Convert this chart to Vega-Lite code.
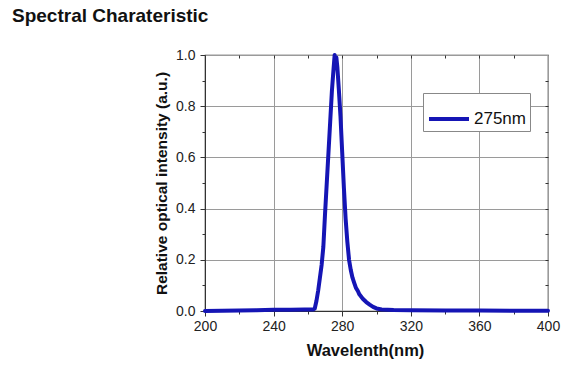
{
  "$schema": "https://vega.github.io/schema/vega-lite/v6.json",
  "width": 343,
  "height": 256,
  "autosize": "none",
  "padding": {"left": 205, "top": 55, "right": 36, "bottom": 60},
  "background": "white",
  "title": {
    "text": "Spectral Charateristic",
    "anchor": "start",
    "frame": "group",
    "font": "Liberation Sans",
    "fontSize": 19,
    "fontWeight": "bold",
    "color": "#111111",
    "baseline": "alphabetic",
    "dx": -193,
    "offset": 7
  },
  "config": {
    "view": {"stroke": "#333333", "strokeWidth": 1.2},
    "axis": {
      "labelFont": "Liberation Sans",
      "titleFont": "Liberation Sans",
      "labelColor": "#222222",
      "titleColor": "#111111",
      "domainColor": "#333333",
      "tickColor": "#333333",
      "gridColor": "#9a9a9a",
      "gridWidth": 1,
      "labelFlush": false
    }
  },
  "data": {
    "values": [
      {"wl": 200, "v": 0.0, "series": "275nm"},
      {"wl": 210, "v": 0.001, "series": "275nm"},
      {"wl": 220, "v": 0.002, "series": "275nm"},
      {"wl": 230, "v": 0.003, "series": "275nm"},
      {"wl": 240, "v": 0.005, "series": "275nm"},
      {"wl": 250, "v": 0.005, "series": "275nm"},
      {"wl": 258, "v": 0.006, "series": "275nm"},
      {"wl": 263, "v": 0.006, "series": "275nm"},
      {"wl": 264, "v": 0.01, "series": "275nm"},
      {"wl": 265, "v": 0.04, "series": "275nm"},
      {"wl": 266, "v": 0.08, "series": "275nm"},
      {"wl": 267, "v": 0.13, "series": "275nm"},
      {"wl": 268, "v": 0.18, "series": "275nm"},
      {"wl": 269, "v": 0.25, "series": "275nm"},
      {"wl": 270, "v": 0.38, "series": "275nm"},
      {"wl": 271, "v": 0.5, "series": "275nm"},
      {"wl": 272, "v": 0.62, "series": "275nm"},
      {"wl": 273, "v": 0.74, "series": "275nm"},
      {"wl": 274, "v": 0.86, "series": "275nm"},
      {"wl": 275, "v": 0.95, "series": "275nm"},
      {"wl": 275.6, "v": 1.0, "series": "275nm"},
      {"wl": 276.1, "v": 0.97, "series": "275nm"},
      {"wl": 276.6, "v": 0.99, "series": "275nm"},
      {"wl": 277.2, "v": 0.95, "series": "275nm"},
      {"wl": 278, "v": 0.87, "series": "275nm"},
      {"wl": 279, "v": 0.76, "series": "275nm"},
      {"wl": 280, "v": 0.62, "series": "275nm"},
      {"wl": 281, "v": 0.48, "series": "275nm"},
      {"wl": 282, "v": 0.36, "series": "275nm"},
      {"wl": 283, "v": 0.27, "series": "275nm"},
      {"wl": 284, "v": 0.2, "series": "275nm"},
      {"wl": 285, "v": 0.16, "series": "275nm"},
      {"wl": 286, "v": 0.13, "series": "275nm"},
      {"wl": 287, "v": 0.11, "series": "275nm"},
      {"wl": 288, "v": 0.09, "series": "275nm"},
      {"wl": 289, "v": 0.08, "series": "275nm"},
      {"wl": 290, "v": 0.065, "series": "275nm"},
      {"wl": 292, "v": 0.048, "series": "275nm"},
      {"wl": 294, "v": 0.035, "series": "275nm"},
      {"wl": 296, "v": 0.025, "series": "275nm"},
      {"wl": 298, "v": 0.016, "series": "275nm"},
      {"wl": 300, "v": 0.01, "series": "275nm"},
      {"wl": 303, "v": 0.006, "series": "275nm"},
      {"wl": 310, "v": 0.004, "series": "275nm"},
      {"wl": 320, "v": 0.003, "series": "275nm"},
      {"wl": 340, "v": 0.002, "series": "275nm"},
      {"wl": 360, "v": 0.002, "series": "275nm"},
      {"wl": 380, "v": 0.001, "series": "275nm"},
      {"wl": 400, "v": 0.001, "series": "275nm"}
    ]
  },
  "resolve": {"axis": {"x": "independent", "y": "independent"}},
  "layer": [
    {
      "mark": {"type": "line", "opacity": 0},
      "encoding": {
        "x": {"field": "wl", "type": "quantitative",
          "axis": {"orient": "bottom", "values": [220, 260, 300, 340, 380], "labels": false, "grid": false, "domain": false, "tickSize": 3, "title": null}},
        "y": {"field": "v", "type": "quantitative",
          "axis": {"orient": "left", "values": [0.1, 0.3, 0.5, 0.7, 0.9], "labels": false, "grid": false, "domain": false, "tickSize": 3, "title": null}}
      }
    },
    {
      "mark": {"type": "line", "opacity": 0},
      "encoding": {
        "x": {"field": "wl", "type": "quantitative",
          "axis": {"orient": "top", "values": [220, 240, 260, 280, 300, 320, 340, 360, 380], "labels": false, "grid": false, "domain": false, "tickSize": -3, "title": null}},
        "y": {"field": "v", "type": "quantitative",
          "axis": {"orient": "right", "values": [0.1, 0.2, 0.3, 0.4, 0.5, 0.6, 0.7, 0.8, 0.9], "labels": false, "grid": false, "domain": false, "tickSize": -3, "title": null}}
      }
    },
    {
      "mark": {"type": "line", "strokeWidth": 4, "strokeJoin": "round", "strokeCap": "round"},
      "encoding": {
        "x": {"field": "wl", "type": "quantitative",
          "scale": {"domain": [200, 400], "nice": false, "zero": false},
          "axis": {"orient": "bottom", "values": [200, 240, 280, 320, 360, 400], "grid": true, "tickSize": 5, "labelPadding": 3, "labelFontSize": 14,
            "title": "Wavelenth(nm)", "titleFontSize": 16.5, "titleFontWeight": "bold", "titleX": 160, "titleY": 44, "titleBaseline": "alphabetic"}},
        "y": {"field": "v", "type": "quantitative",
          "scale": {"domain": [0, 1], "nice": false},
          "axis": {"orient": "left", "values": [0, 0.2, 0.4, 0.6, 0.8, 1.0], "format": ".1f", "grid": true, "tickSize": 5, "labelPadding": 5, "labelFontSize": 14,
            "title": "Relative optical intensity (a.u.)", "titleFontSize": 15.5, "titleFontWeight": "bold", "titleX": -39, "titleY": 128, "titleBaseline": "alphabetic"}},
        "color": {"field": "series", "type": "nominal",
          "scale": {"range": ["#1515b5"]},
          "legend": {"orient": "none", "legendX": 218, "legendY": 38, "title": null,
            "strokeColor": "#888888", "fillColor": "white", "padding": 4,
            "symbolType": "stroke", "symbolSize": 1600, "symbolStrokeWidth": 4,
            "labelFont": "Liberation Sans", "labelFontSize": 17, "labelColor": "#111111", "labelOffset": 3}}
      }
    }
  ]
}
